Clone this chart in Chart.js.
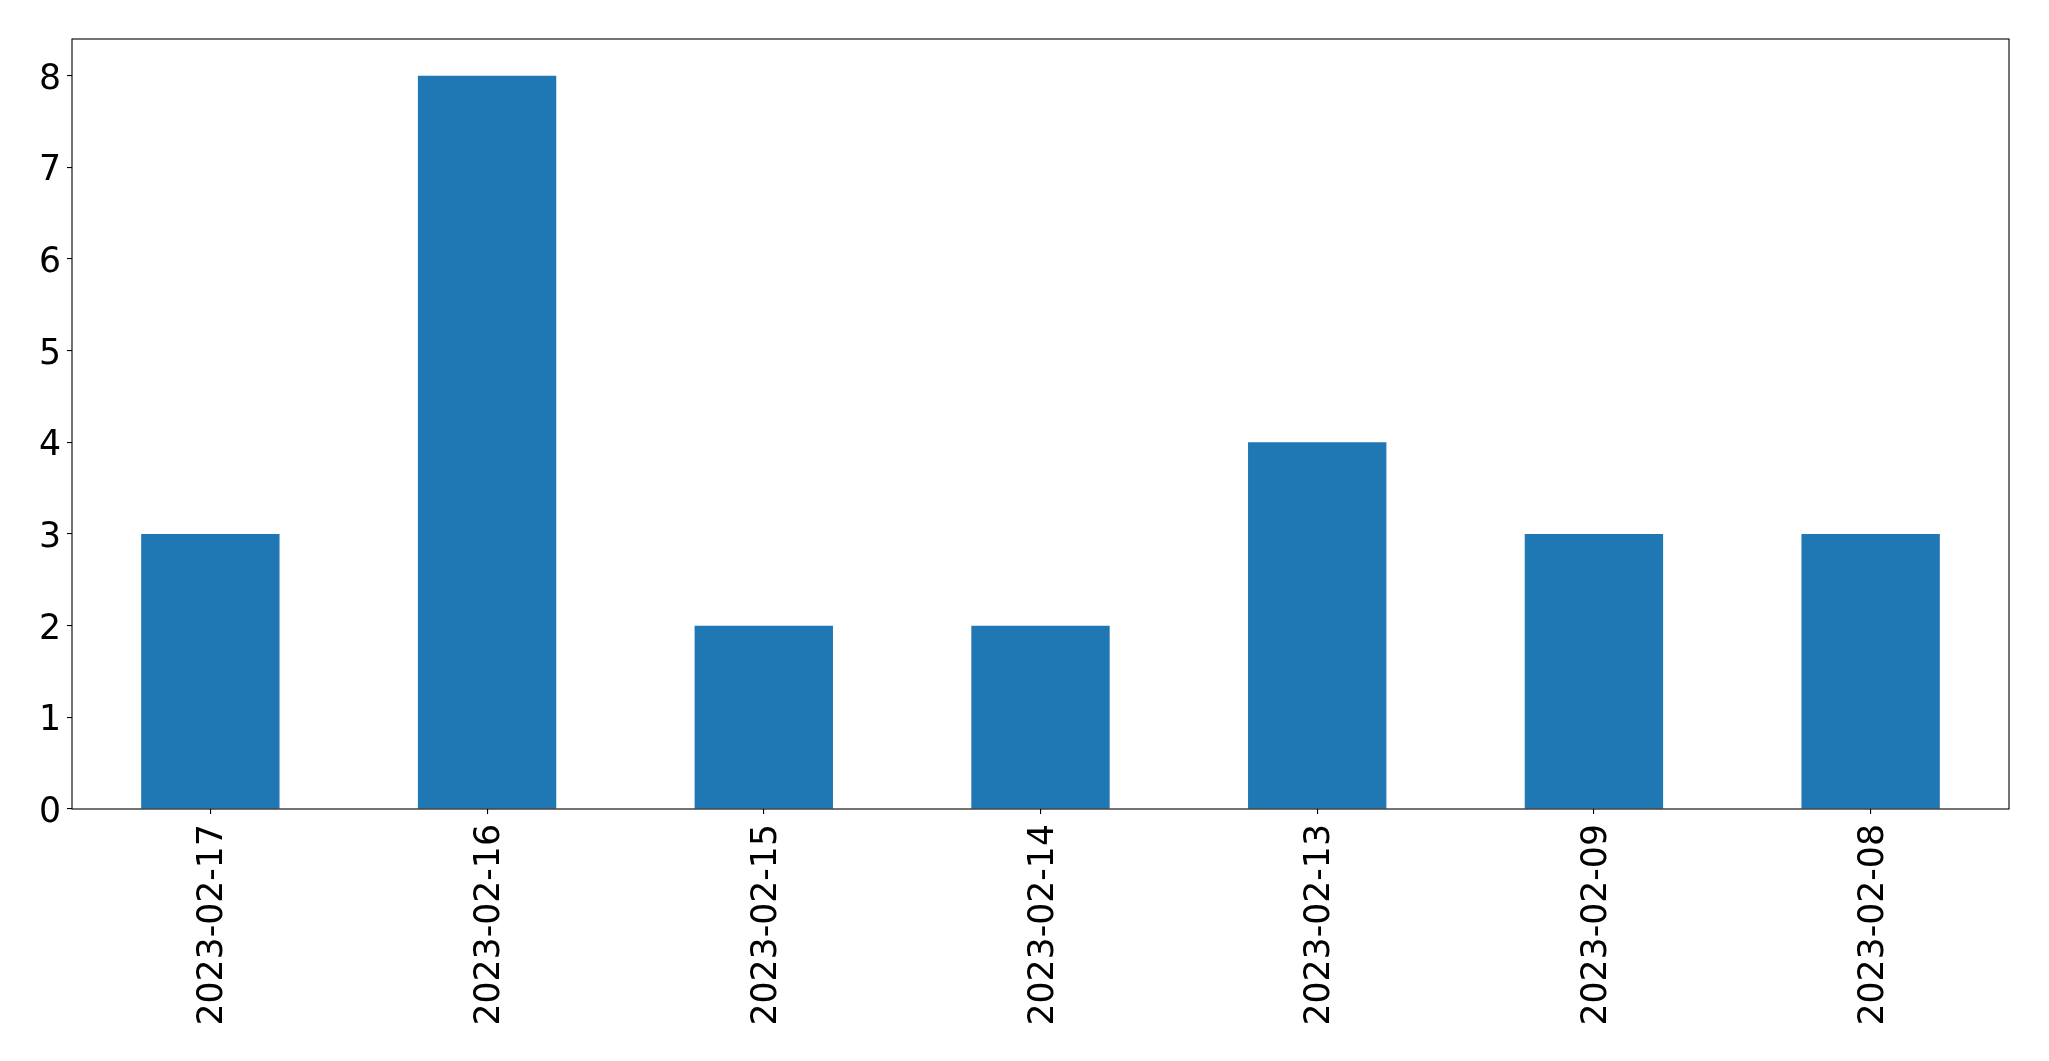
<!DOCTYPE html>
<html>
<head>
<meta charset="utf-8">
<script src="https://cdn.jsdelivr.net/npm/chart.js@4.4.1/dist/chart.umd.min.js"></script>
<style>
  body { margin: 0; background: #fff; }
  canvas { display: block; }
</style>
</head>
<body>
<canvas id="myChart" width="2049" height="1061"></canvas>
<script>

// data
const dates = ['2023-02-17', '2023-02-16', '2023-02-15', '2023-02-14', '2023-02-13', '2023-02-09', '2023-02-08'];
const counts = [3, 8, 2, 2, 4, 3, 3];
const y_ticks = [0, 1, 2, 3, 4, 5, 6, 7, 8];
const y_max = 8.4;

const tick_font = { family: 'DejaVu Sans', size: 34.7 };

// frame around plot area, like matplotlib spines
const frame_plugin = {
    id: 'frame',
    afterDraw(chart) {
        const a = chart.chartArea;
        const c = chart.ctx;
        c.save();
        c.strokeStyle = '#000';
        c.lineWidth = 1.1;
        c.strokeRect(a.left, a.top, a.right - a.left, a.bottom - a.top);
        c.restore();
    }
};

const ctx = document.getElementById('myChart');

const kave_chart = new Chart(ctx, {
    type: 'bar',
    data: {
        labels: dates,
        datasets: [{
            data: counts,
            backgroundColor: '#1f77b4',
            borderWidth: 0,
            categoryPercentage: 1.0,
            barPercentage: 0.5
        }]
    },
    plugins: [frame_plugin],
    options: {
        responsive: false,
        animation: false,
        devicePixelRatio: 1,
        layout: { padding: { top: 39, right: 40, left: 0, bottom: 0 } },
        plugins: {
            legend: { display: false },
            tooltip: { enabled: false }
        },
        scales: {
            x: {
                grid: { display: true, drawOnChartArea: false, offset: false, color: '#000', tickLength: 5, lineWidth: 1.1 },
                border: { display: false },
                ticks: { font: tick_font, color: '#000', maxRotation: 90, minRotation: 90, padding: 10, labelOffset: 3, autoSkip: false },
                afterFit(axis) { axis.height = 252; }
            },
            y: {
                min: 0,
                max: y_max,
                grid: { display: true, drawOnChartArea: false, color: '#000', tickLength: 5, lineWidth: 1.1 },
                border: { display: false },
                ticks: { font: tick_font, color: '#000', padding: 6, labelOffset: 4 },
                afterBuildTicks(axis) { axis.ticks = y_ticks.map(v => ({ value: v })); },
                afterFit(axis) { axis.width = 72; }
            }
        }
    }
});

</script>
</body>
</html>
